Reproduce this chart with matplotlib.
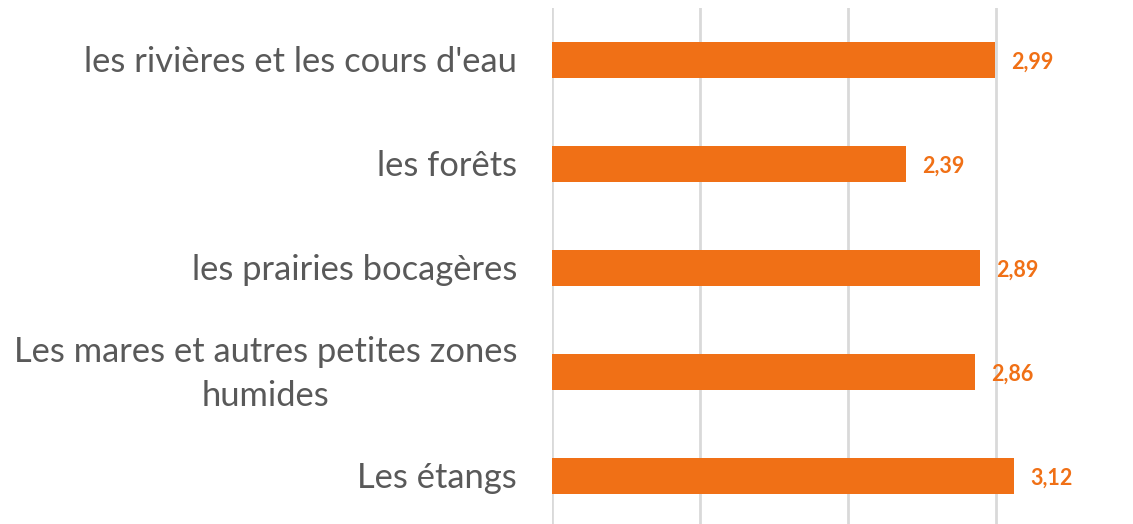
import matplotlib
matplotlib.use('Agg')
import matplotlib.pyplot as plt

# data
categories = ["les rivières et les cours d'eau",
              "les forêts",
              "les prairies bocagères",
              "Les mares et autres petites zones\nhumides",
              "Les étangs"]
values = [2.99, 2.39, 2.89, 2.86, 3.12]
value_labels = ["2,99", "2,39", "2,89", "2,86", "3,12"]

ORANGE = '#F07016'
GREY_TXT = '#595959'
GRID = '#D9D9D9'

W, H = 1133, 524
fig = plt.figure(figsize=(W / 100, H / 100), dpi=100)
ax = fig.add_axes([552 / W, 0, 1 - 552 / W, (H - 8) / H])

pos = list(range(len(categories)))
ax.barh(pos, values, height=0.35, color=ORANGE, zorder=3)

ax.set_xlim(0, (W - 552) / 148)
ax.set_ylim(4.5 - 4 / 104, -0.5)
ax.set_xticks([0, 1, 2, 3])
ax.xaxis.grid(True, color=GRID, linewidth=2, zorder=0)
ax.tick_params(left=False, bottom=False, labelbottom=False, labelleft=False)
for s in ax.spines.values():
    s.set_visible(False)

for p, cat in zip(pos, categories):
    ax.text(-0.235, p + 0.02, cat, ha='right', va='center', multialignment='center',
            fontsize=24.8, color=GREY_TXT, family=['Lato', 'DejaVu Sans'],
            linespacing=1.45)

for p, v, lab in zip(pos, values, value_labels):
    ax.text(v + 0.11, p + 0.025, lab, ha='left', va='center', fontsize=15.5,
            fontweight='bold', color=ORANGE, family=['Lato', 'DejaVu Sans'])

fig.savefig('out.png', dpi=100)
